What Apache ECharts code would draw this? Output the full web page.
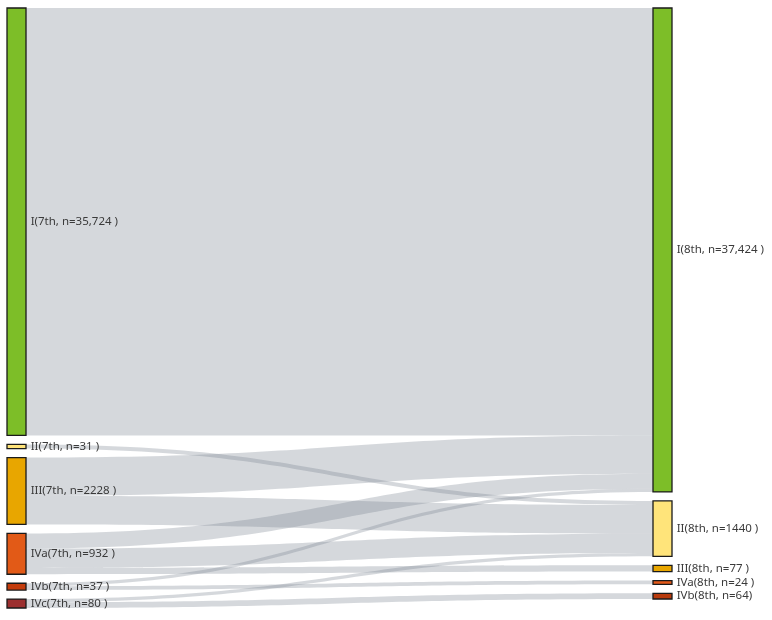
<!DOCTYPE html>
<html>
<head>
<meta charset="utf-8">
<script src="https://cdn.jsdelivr.net/npm/echarts@6/dist/echarts.min.js"></script>
<style>
html,body{margin:0;padding:0;background:#fff;}
#chart{width:772px;height:620px;}
</style>
</head>
<body>
<div id="chart"></div>
<script>
// ---- data ----
const stages7 = ['I', 'II', 'III', 'IVa', 'IVb', 'IVc'];
const counts7 = [35724, 31, 2228, 932, 37, 80];
const labels7 = ['I(7th, n=35,724 )', 'II(7th, n=31 )', 'III(7th, n=2228 )', 'IVa(7th, n=932 )', 'IVb(7th, n=37 )', 'IVc(7th, n=80 )'];
const colors7 = ['#7DBE28', '#FFE47A', '#E8A600', '#E25A17', '#C43C0C', '#9C3030'];

const stages8 = ['I', 'II', 'III', 'IVa', 'IVb'];
const counts8 = [37424, 1440, 77, 24, 64];
const labels8 = ['I(8th, n=37,424 )', 'II(8th, n=1440 )', 'III(8th, n=77 )', 'IVa(8th, n=24 )', 'IVb(8th, n=64)'];
const colors8 = ['#7DBE28', '#FFE47A', '#E8A600', '#E55A1A', '#B83A0C'];

// flows 7th -> 8th (estimated counts)
const flowFrom  = ['I',   'II', 'III', 'III', 'IVa', 'IVa', 'IVa', 'IVb', 'IVb', 'IVc', 'IVc'];
const flowTo    = ['I',   'II', 'I',   'II',  'I',   'II',  'III', 'IVa', 'I',   'IVb', 'II'];
const flowCount = [35724, 31,   1338,  890,   349,   506,   77,    24,    13,    64,    16];

// display scale for band widths (compressed power scale with a small base width,
// as the reference draws its bands non-proportionally)
const SCALE_EXP = 0.75;
const BASE_WIDTH = 12;
const bandWeight = c => Math.pow(c, SCALE_EXP) + BASE_WIDTH;

const nodes = [];
stages7.forEach((s, i) => nodes.push({
  name: s + '_7', label: { formatter: labels7[i] },
  itemStyle: { color: colors7[i] }
}));
stages8.forEach((s, i) => nodes.push({
  name: s + '_8', label: { formatter: labels8[i] },
  itemStyle: { color: colors8[i] }
}));
const links = flowCount.map((c, i) => ({
  source: flowFrom[i] + '_7',
  target: flowTo[i] + '_8',
  value: bandWeight(c),
  count: c
}));

const chart = echarts.init(document.getElementById('chart'), null, { renderer: 'canvas' });
chart.setOption({
  animation: false,
  tooltip: { show: false },
  series: [{
    type: 'sankey',
    left: 7,
    right: 100,
    top: 8,
    bottom: 12,
    nodeWidth: 19,
    nodeGap: 9,
    layoutIterations: 0,
    nodeAlign: 'justify',
    draggable: false,
    emphasis: { disabled: true },
    data: nodes,
    links: links,
    itemStyle: { borderColor: '#1a1a1a', borderWidth: 1.3 },
    lineStyle: { color: 'rgb(115,125,138)', opacity: 0.3, curveness: 0.5 },
    label: {
      show: true,
      position: 'right',
      distance: 4,
      color: '#3a3a3a',
      fontSize: 11.5,
      fontFamily: '"Noto Sans", "Noto Sans CJK KR", sans-serif'
    }
  }]
});
</script>
</body>
</html>
